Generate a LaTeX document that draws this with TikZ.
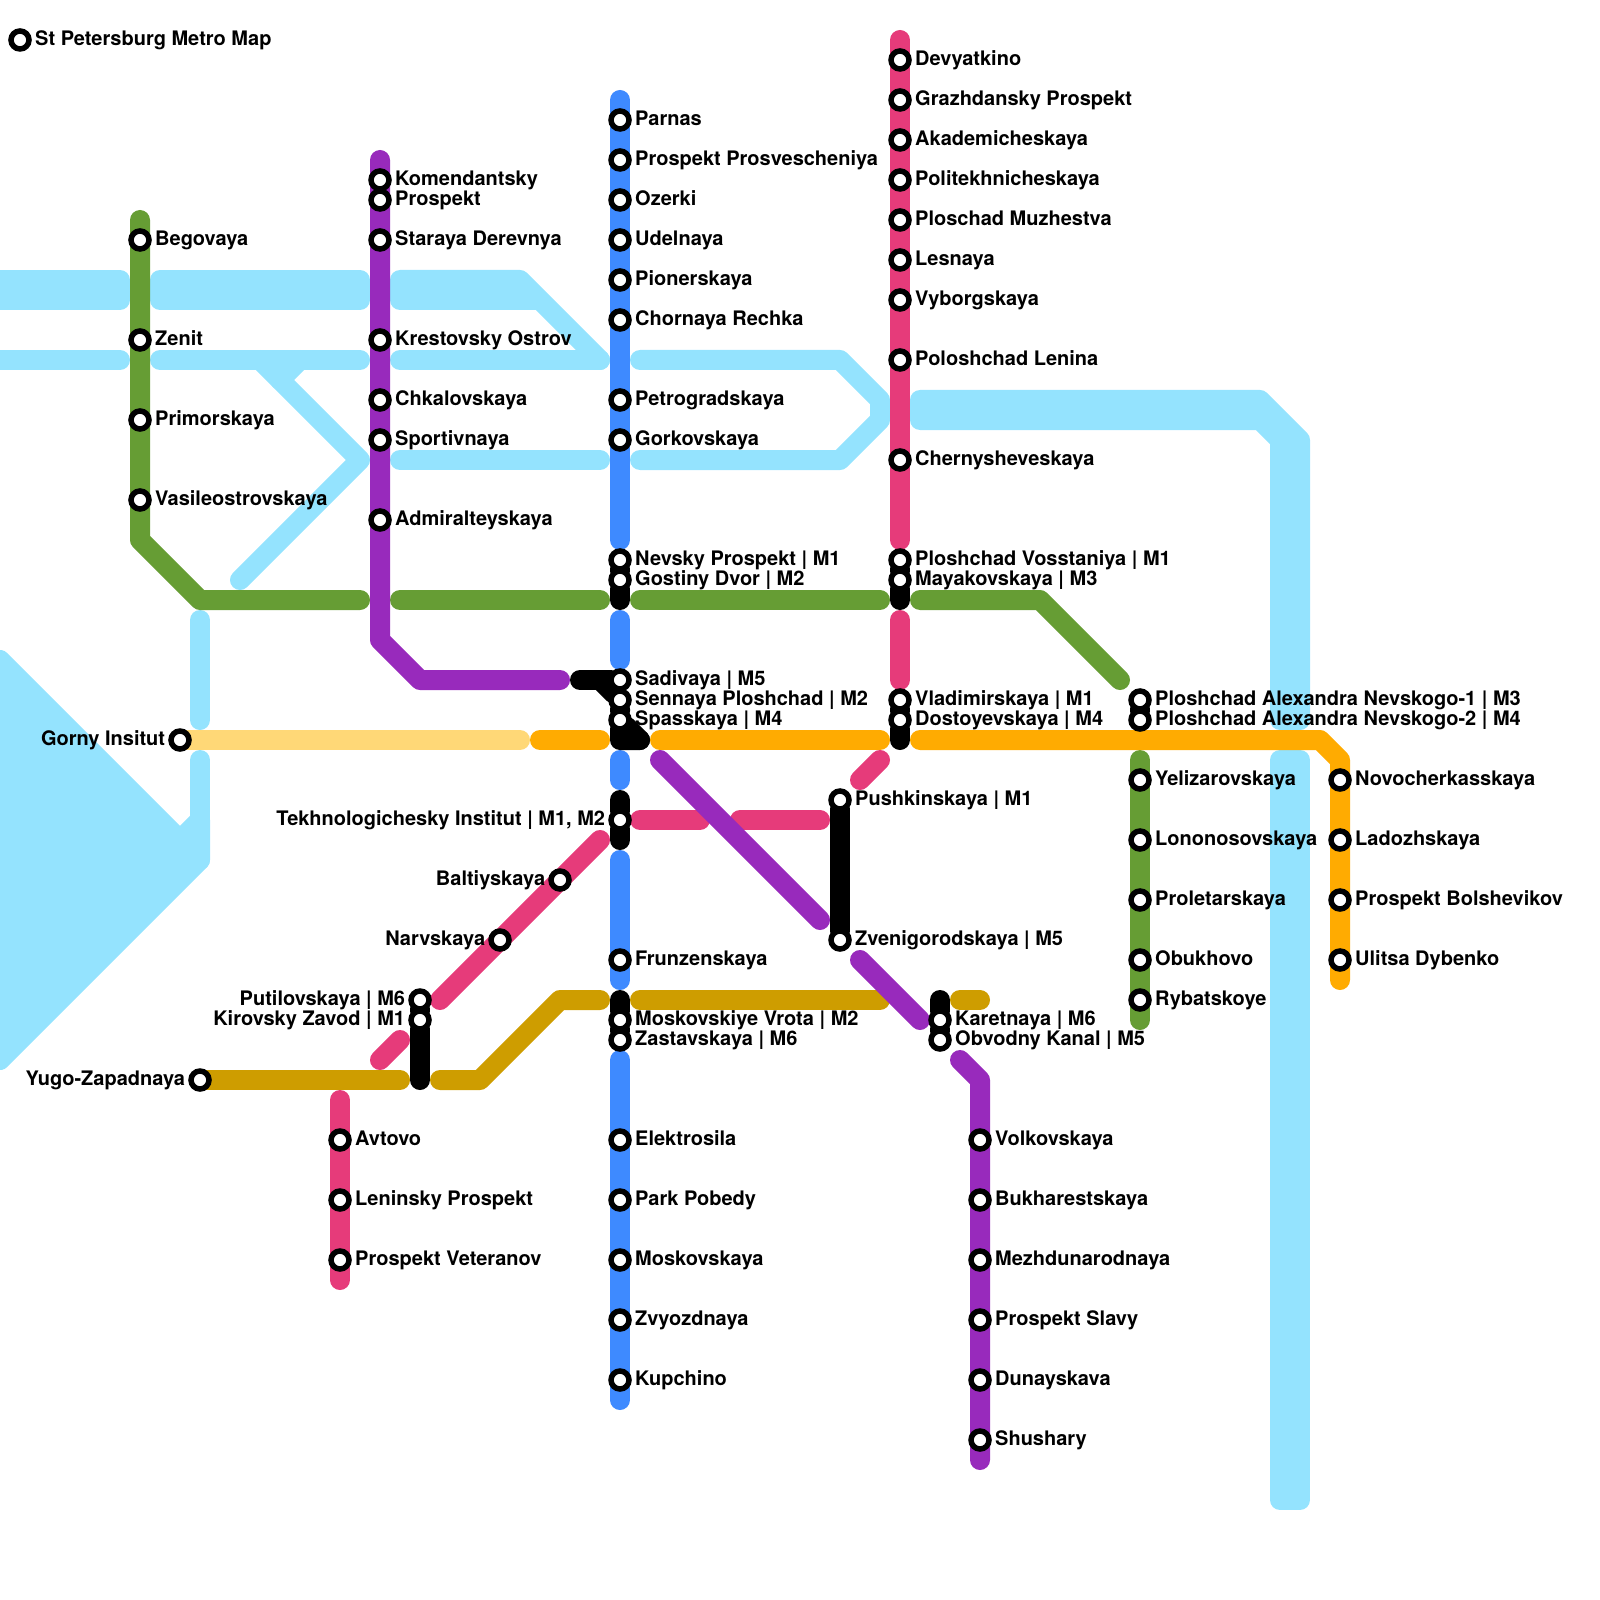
\documentclass[tikz,border=0pt]{standalone}
\usepackage{fontspec}
\setmainfont{TeX Gyre Heros}
\usepackage{tikz}
\usetikzlibrary{backgrounds}
\definecolor{MetroWater}{HTML}{94E3FE}
\definecolor{MetroPink}{HTML}{E63B7A}
\definecolor{MetroBlue}{HTML}{3E8AFF}
\definecolor{MetroGreen}{HTML}{669D34}
\definecolor{MetroOrange}{HTML}{FFAB01}
\definecolor{MetroPurple}{HTML}{982ABC}
\definecolor{MetroGold}{HTML}{CE9D00}
\definecolor{MetroYellow}{HTML}{FFD877}

\begin{document}
\begin{tikzpicture}[
    x=2mm,y=-2mm,
    every node/.style={font=\fontsize{5.69pt}{7pt}\selectfont\bfseries},
    stn/.style={circle,draw=black,fill=white,line width=0.55mm,minimum size=1.8mm,inner sep=0pt,outer sep=0pt},
    rname/.style={anchor=base west,inner sep=0pt,xshift=1.45mm,yshift=-0.53mm},
    lname/.style={anchor=base east,inner sep=0pt,xshift=-1.42mm,yshift=-0.53mm},
    seg/.style={line width=2mm,line cap=round,line join=round},
    water/.style={seg,MetroWater},
    river/.style={seg,draw=MetroWater,fill=MetroWater},
    m1/.style={seg,MetroPink},
    m2/.style={seg,MetroBlue},
    m3/.style={seg,MetroGreen},
    m4/.style={seg,MetroOrange},
    m5/.style={seg,MetroPurple},
    m6/.style={seg,MetroGold},
    m7/.style={seg,MetroYellow},
    link/.style={seg,black}
  ]
    \useasboundingbox (0,0) rectangle (80,80);

    \node[stn] (title) at (1,2) {}; \node[rname] (titlet) at (title) {St Petersburg Metro Map};

    \node[stn] (devyatkino) at (45,3) {}; \node[rname] (devyatkinot) at (devyatkino) {Devyatkino};
    \node[stn] (grazhdansky) at (45,5) {}; \node[rname] (grazhdanskyt) at (grazhdansky) {Grazhdansky Prospekt};
    \node[stn] (akadem) at (45,7) {}; \node[rname] (akademt) at (akadem) {Akademicheskaya};
    \node[stn] (politekh) at (45,9) {}; \node[rname] (politekht) at (politekh) {Politekhnicheskaya};
    \node[stn] (muzhestva) at (45,11) {}; \node[rname] (muzhestvat) at (muzhestva) {Ploschad Muzhestva};
    \node[stn] (lesnaya) at (45,13) {}; \node[rname] (lesnayat) at (lesnaya) {Lesnaya};
    \node[stn] (vyborg) at (45,15) {}; \node[rname] (vyborgt) at (vyborg) {Vyborgskaya};
    \node[stn] (lenina) at (45,18) {}; \node[rname] (leninat) at (lenina) {Poloshchad Lenina};
    \node[stn] (cherny) at (45,23) {}; \node[rname] (chernyt) at (cherny) {Chernysheveskaya};
    \node[stn] (vosstaniya) at (45,28) {}; \node[rname] (vosstaniyat) at (vosstaniya) {Ploshchad Vosstaniya | M1};
    \node[stn] (mayak) at (45,29) {}; \node[rname] (mayakt) at (mayak) {Mayakovskaya | M3};
    \node[stn] (vladimir) at (45,35) {}; \node[rname] (vladimirt) at (vladimir) {Vladimirskaya | M1};
    \node[stn] (dostoy) at (45,36) {}; \node[rname] (dostoyt) at (dostoy) {Dostoyevskaya | M4};

    \node[stn] (parnas) at (31,6) {}; \node[rname] (parnast) at (parnas) {Parnas};
    \node[stn] (prosv) at (31,8) {}; \node[rname] (prosvt) at (prosv) {Prospekt Prosvescheniya};
    \node[stn] (ozerki) at (31,10) {}; \node[rname] (ozerkit) at (ozerki) {Ozerki};
    \node[stn] (udelnaya) at (31,12) {}; \node[rname] (udelnayat) at (udelnaya) {Udelnaya};
    \node[stn] (pioner) at (31,14) {}; \node[rname] (pionert) at (pioner) {Pionerskaya};
    \node[stn] (chornaya) at (31,16) {}; \node[rname] (chornayat) at (chornaya) {Chornaya Rechka};
    \node[stn] (petrograd) at (31,20) {}; \node[rname] (petrogradt) at (petrograd) {Petrogradskaya};
    \node[stn] (gorkov) at (31,22) {}; \node[rname] (gorkovt) at (gorkov) {Gorkovskaya};
    \node[stn] (nevsky) at (31,28) {}; \node[rname] (nevskyt) at (nevsky) {Nevsky Prospekt | M1};
    \node[stn] (gostiny) at (31,29) {}; \node[rname] (gostinyt) at (gostiny) {Gostiny Dvor | M2};
    \node[stn] (sadivaya) at (31,34) {}; \node[rname] (sadivayat) at (sadivaya) {Sadivaya | M5};
    \node[stn] (sennaya) at (31,35) {}; \node[rname] (sennayat) at (sennaya) {Sennaya Ploshchad | M2};
    \node[stn] (spasskaya) at (31,36) {}; \node[rname] (spasskayat) at (spasskaya) {Spasskaya | M4};
    \node[stn] (tekhno) at (31,41) {}; \node[lname] (tekhnot) at (tekhno) {Tekhnologichesky Institut | M1, M2};
    \node[stn] (frunze) at (31,48) {}; \node[rname] (frunzet) at (frunze) {Frunzenskaya};
    \node[stn] (vrota) at (31,51) {}; \node[rname] (vrotat) at (vrota) {Moskovskiye Vrota | M2};
    \node[stn] (zastav) at (31,52) {}; \node[rname] (zastavt) at (zastav) {Zastavskaya | M6};
    \node[stn] (elektro) at (31,57) {}; \node[rname] (elektrot) at (elektro) {Elektrosila};
    \node[stn] (pobedy) at (31,60) {}; \node[rname] (pobedyt) at (pobedy) {Park Pobedy};
    \node[stn] (moskov) at (31,63) {}; \node[rname] (moskovt) at (moskov) {Moskovskaya};
    \node[stn] (zvyozd) at (31,66) {}; \node[rname] (zvyozdt) at (zvyozd) {Zvyozdnaya};
    \node[stn] (kupchino) at (31,69) {}; \node[rname] (kupchinot) at (kupchino) {Kupchino};

    \node[stn] (begovaya) at (7,12) {}; \node[rname] (begovayat) at (begovaya) {Begovaya};
    \node[stn] (zenit) at (7,17) {}; \node[rname] (zenitt) at (zenit) {Zenit};
    \node[stn] (primor) at (7,21) {}; \node[rname] (primort) at (primor) {Primorskaya};
    \node[stn] (vasileo) at (7,25) {}; \node[rname] (vasileot) at (vasileo) {Vasileostrovskaya};

    \node[stn] (komend) at (19,9) {}; \node[rname] (komendt) at (komend) {Komendantsky};
    \node[stn] (komendb) at (19,10) {}; \node[rname] (komendbt) at (komendb) {Prospekt};
    \node[stn] (staraya) at (19,12) {}; \node[rname] (starayat) at (staraya) {Staraya Derevnya};
    \node[stn] (krestov) at (19,17) {}; \node[rname] (krestovt) at (krestov) {Krestovsky Ostrov};
    \node[stn] (chkalov) at (19,20) {}; \node[rname] (chkalovt) at (chkalov) {Chkalovskaya};
    \node[stn] (sport) at (19,22) {}; \node[rname] (sportt) at (sport) {Sportivnaya};
    \node[stn] (admiral) at (19,26) {}; \node[rname] (admiralt) at (admiral) {Admiralteyskaya};

    \node[stn] (gorny) at (9,37) {}; \node[lname] (gornyt) at (gorny) {Gorny Insitut};
    \node[stn] (yugo) at (10,54) {}; \node[lname] (yugot) at (yugo) {Yugo-Zapadnaya};
    \node[stn] (putilov) at (21,50) {}; \node[lname] (putilovt) at (putilov) {Putilovskaya | M6};
    \node[stn] (kirov) at (21,51) {}; \node[lname] (kirovt) at (kirov) {Kirovsky Zavod | M1};
    \node[stn] (narva) at (25,47) {}; \node[lname] (narvat) at (narva) {Narvskaya};
    \node[stn] (balti) at (28,44) {}; \node[lname] (baltit) at (balti) {Baltiyskaya};
    \node[stn] (avtovo) at (17,57) {}; \node[rname] (avtovot) at (avtovo) {Avtovo};
    \node[stn] (leninsky) at (17,60) {}; \node[rname] (leninskyt) at (leninsky) {Leninsky Prospekt};
    \node[stn] (veteranov) at (17,63) {}; \node[rname] (veteranovt) at (veteranov) {Prospekt Veteranov};

    \node[stn] (pushkin) at (42,40) {}; \node[rname] (pushkint) at (pushkin) {Pushkinskaya | M1};
    \node[stn] (zvenigo) at (42,47) {}; \node[rname] (zvenigot) at (zvenigo) {Zvenigorodskaya | M5};
    \node[stn] (karet) at (47,51) {}; \node[rname] (karett) at (karet) {Karetnaya | M6};
    \node[stn] (obvod) at (47,52) {}; \node[rname] (obvodt) at (obvod) {Obvodny Kanal | M5};
    \node[stn] (volkov) at (49,57) {}; \node[rname] (volkovt) at (volkov) {Volkovskaya};
    \node[stn] (bukhar) at (49,60) {}; \node[rname] (bukhart) at (bukhar) {Bukharestskaya};
    \node[stn] (mezhdu) at (49,63) {}; \node[rname] (mezhdut) at (mezhdu) {Mezhdunarodnaya};
    \node[stn] (slavy) at (49,66) {}; \node[rname] (slavyt) at (slavy) {Prospekt Slavy};
    \node[stn] (dunay) at (49,69) {}; \node[rname] (dunayt) at (dunay) {Dunayskava};
    \node[stn] (shushary) at (49,72) {}; \node[rname] (shusharyt) at (shushary) {Shushary};

    \node[stn] (nevskoa) at (57,35) {}; \node[rname] (nevskoat) at (nevskoa) {Ploshchad Alexandra Nevskogo-1 | M3};
    \node[stn] (nevskob) at (57,36) {}; \node[rname] (nevskobt) at (nevskob) {Ploshchad Alexandra Nevskogo-2 | M4};
    \node[stn] (yeliz) at (57,39) {}; \node[rname] (yelizt) at (yeliz) {Yelizarovskaya};
    \node[stn] (lomono) at (57,42) {}; \node[rname] (lomonot) at (lomono) {Lononosovskaya};
    \node[stn] (prolet) at (57,45) {}; \node[rname] (prolett) at (prolet) {Proletarskaya};
    \node[stn] (obukhovo) at (57,48) {}; \node[rname] (obukhovot) at (obukhovo) {Obukhovo};
    \node[stn] (rybat) at (57,50) {}; \node[rname] (rybatt) at (rybat) {Rybatskoye};

    \node[stn] (novocher) at (67,39) {}; \node[rname] (novochert) at (novocher) {Novocherkasskaya};
    \node[stn] (ladozh) at (67,42) {}; \node[rname] (ladozht) at (ladozh) {Ladozhskaya};
    \node[stn] (bolshev) at (67,45) {}; \node[rname] (bolshevt) at (bolshev) {Prospekt Bolshevikov};
    \node[stn] (dybenko) at (67,48) {}; \node[rname] (dybenkot) at (dybenko) {Ulitsa Dybenko};

    \coordinate (vosstaniyaend) at (45,30);
    \coordinate (dostoyend) at (45,37);
    \coordinate (gostinyend) at (31,30);
    \coordinate (spasskend) at (31,37);
    \coordinate (spasskright) at (32,37);
    \coordinate (sadivayaleft) at (29,34);
    \coordinate (sadivayabend) at (30,34);
    \coordinate (tekhnotop) at (31,40);
    \coordinate (tekhnoend) at (31,42);
    \coordinate (vrotatop) at (31,50);
    \coordinate (kirovend) at (21,54);
    \coordinate (karettop) at (47,50);

    \begin{scope}[on background layer]
      \filldraw[river] (-1,14) rectangle (6,15);
      \filldraw[river] (8,14) rectangle (18,15);
      \filldraw[river] (20,14) -- (26,14) -- (30,18) -- (27,15) -- (20,15) -- cycle;
      \draw[water] (-1,18) -- (6,18);
      \draw[water] (8,18) -- (18,18);
      \draw[water] (20,18) -- (30,18);
      \draw[water] (13,18) -- (18,23) -- (12,29);
      \draw[water] (15,18) -- (14,19);
      \draw[water] (20,23) -- (30,23);
      \draw[water] (32,18) -- (42,18) -- (44,20) -- (44,21) -- (42,23) -- (32,23);
      \filldraw[river] (46,20) -- (63,20) -- (65,22) -- (65,36) -- (64,36) -- (64,22) -- (63,21) -- (46,21) -- cycle;
      \filldraw[river] (64,38) rectangle (65,75);
      \draw[water] (10,31) -- (10,36);
      \draw[water] (10,38) -- (10,43);
      \filldraw[river] (0,33) -- (9,42) -- (10,41) -- (10,43) -- (0,53) -- cycle;

      \draw[m7] (9,37) -- (26,37);
      \draw[m6] (10,54) -- (20,54);
      \draw[m6] (22,54) -- (24,54) -- (28,50) -- (30,50);
      \draw[m6] (32,50) -- (44,50);
      \draw[m6] (48,50) -- (49,50);
      \draw[m3] (7,11) -- (7,27) -- (10,30) -- (18,30);
      \draw[m3] (20,30) -- (30,30);
      \draw[m3] (32,30) -- (44,30);
      \draw[m3] (46,30) -- (52,30) -- (56,34);
      \draw[m3] (57,38) -- (57,51);
      \draw[m1] (45,2) -- (45,27);
      \draw[m1] (45,31) -- (45,34);
      \draw[m1] (44,38) -- (43,39);
      \draw[m1] (32,41) -- (35,41);
      \draw[m1] (37,41) -- (41,41);
      \draw[m1] (30,42) -- (22,50);
      \draw[m1] (20,52) -- (19,53);
      \draw[m1] (17,55) -- (17,64);
      \draw[m2] (31,5) -- (31,27);
      \draw[m2] (31,31) -- (31,33);
      \draw[m2] (31,38) -- (31,39);
      \draw[m2] (31,43) -- (31,49);
      \draw[m2] (31,53) -- (31,70);
      \draw[m4] (27,37) -- (30,37);
      \draw[m4] (33,37) -- (44,37);
      \draw[m4] (46,37) -- (66,37) -- (67,38) -- (67,49);
      \draw[m5] (19,8) -- (19,32) -- (21,34) -- (28,34);
      \draw[m5] (33,38) -- (41,46);
      \draw[m5] (43,48) -- (46,51);
      \draw[m5] (48,53) -- (49,54) -- (49,73);

      \draw[link] (vosstaniya) -- (mayak) -- (vosstaniyaend);
      \draw[link] (vladimir) -- (dostoy) -- (dostoyend);
      \draw[link] (nevsky) -- (gostiny) -- (gostinyend);
      \draw[link] (sadivayaleft) -- (sadivaya);
      \draw[link] (sadivayabend) -- (sennaya) -- (spasskaya) -- (spasskend) -- (spasskright);
      \draw[link] (spasskaya) -- (spasskright);
      \draw[link] (tekhnotop) -- (tekhno) -- (tekhnoend);
      \draw[link] (vrotatop) -- (vrota) -- (zastav);
      \draw[link] (putilov) -- (kirov) -- (kirovend);
      \draw[link] (pushkin) -- (zvenigo);
      \draw[link] (karettop) -- (karet) -- (obvod);
      \draw[link] (nevskoa) -- (nevskob);
    \end{scope}
  \end{tikzpicture}
\end{document}
